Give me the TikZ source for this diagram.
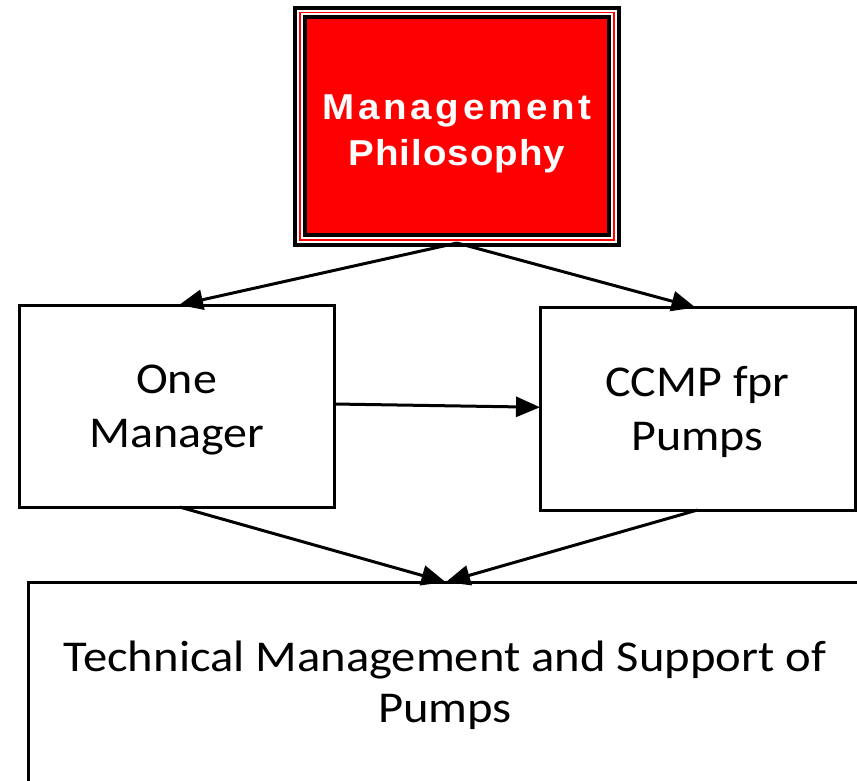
\documentclass[tikz,border=0pt]{standalone}
\usepackage{fontspec}
\usepackage{graphicx}
\setmainfont{Carlito}
\newfontfamily\titlefontA[LetterSpace=9.5]{Liberation Sans}
\newfontfamily\titlefontB[LetterSpace=2.6]{Liberation Sans}
\newfontfamily\boxfont{Carlito}
\newfontfamily\widefont{Carlito}
\usetikzlibrary{arrows.meta}
\definecolor{mpred}{RGB}{255,0,0}
\tikzset{
  box/.style={draw=black, line width=3pt, fill=white, outer sep=0pt, inner sep=0pt},
  arr/.style={line width=3pt, -{Triangle[length=24pt,width=20pt]}},
}
\begin{document}
\begin{tikzpicture}[x=1pt,y=-1pt]
\useasboundingbox (0,0) rectangle (857,781);
\clip (0,0) rectangle (857,781);
% top box
\node[draw=black, fill=mpred, line width=4pt, outer sep=0pt, inner sep=0pt,
      minimum width=304.6pt, minimum height=217.9pt, text=white,
      font=\bfseries\fontsize{36}{46}\selectfont]
  (mp) at (457,126.35)
  {\scalebox{1.07}[1]{\begin{tabular}{@{}c@{}}\rule{0pt}{45.2pt}{\titlefontA\bfseries Management}\\{\titlefontB\bfseries Philosophy}\end{tabular}}};
\draw[mpred, line width=1.8pt] ([shift={(-4.9,-4.9)}]mp.north west) rectangle ([shift={(4.9,4.9)}]mp.south east);
\draw[black, line width=4pt] ([shift={(-9.4,-9.4)}]mp.north west) rectangle ([shift={(9.4,9.4)}]mp.south east);
\coordinate (mpb) at ([yshift=-7.7pt]mp.south);
% middle boxes
\node[box, minimum width=315pt, minimum height=202pt,
      font=\boxfont\fontsize{44}{54}\selectfont]
  (lm) at (176.5,406)
  {\scalebox{1.09}[1]{\begin{tabular}{@{}c@{}}\rule{0pt}{44.2pt}One\\Manager\end{tabular}}};
\node[box, minimum width=315pt, minimum height=202.5pt,
      font=\boxfont\fontsize{44}{54}\selectfont]
  (cc) at (697.5,408.75)
  {\scalebox{1.09}[1]{\begin{tabular}{@{}c@{}}\rule{0pt}{44.8pt}CCMP fpr\\Pumps\end{tabular}}};
% bottom box
\node[box, minimum width=834pt, minimum height=210pt,
      font=\widefont\fontsize{44}{51}\selectfont]
  (tm) at (445,687)
  {\scalebox{1.105}[1]{\begin{tabular}{@{}c@{}}Technical Management and Support of\\Pumps\end{tabular}}};
% connectors
\draw[arr] (mpb) -- ([xshift=2.5pt]lm.north);
\draw[arr] (mpb) -- ([xshift=-2pt]cc.north);
\draw[arr] ([yshift=2pt]lm.east) -- ([yshift=1.5pt]cc.west);
\draw[arr] ([xshift=3pt]lm.south) -- ([xshift=0.5pt]tm.north);
\draw[arr] (cc.south) -- ([xshift=1pt]tm.north);
\end{tikzpicture}
\end{document}
